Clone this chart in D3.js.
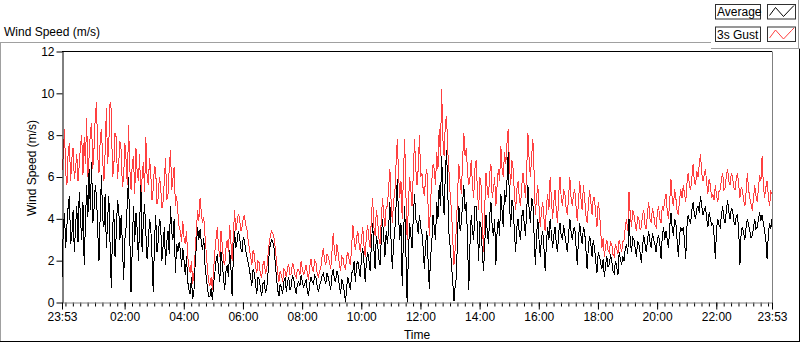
<!DOCTYPE html>
<html>
<head>
<meta charset="utf-8">
<script src="https://cdn.jsdelivr.net/npm/d3@7"></script>
<style>
  html, body { margin: 0; padding: 0; background: #ffffff; }
  svg { display: block; }
  text { font-family: "Liberation Sans", Arial, sans-serif; font-size: 12px; fill: #000; }
</style>
</head>
<body>
<svg id="chart" width="800" height="342"></svg>
<script>
// ---------------- DATA ----------------
const chartTitle = "Wind Speed (m/s)";
const yAxisTitle = "Wind Speed (m/s)";
const xAxisTitle = "Time";
const seriesNames = ["Average", "3s Gust"];
const startLabel = "23:53";          // first sample (previous day)
const sampleStepSeconds = 150;       // one reading every 2.5 minutes
const yTickValues = [0, 2, 4, 6, 8, 10, 12];
const xTickLabels = ["23:53", "02:00", "04:00", "06:00", "08:00", "10:00", "12:00",
                     "14:00", "16:00", "18:00", "20:00", "22:00", "23:53"];

// 3 s gust (m/s), 24 readings per hour from 23:53
const gust = [
  6.3, 7.0, 8.3, 6.2, 5.6, 7.2, 7.6, 5.8, 6.9, 7.4, 5.9, 6.4, 7.1, 5.8, 6.6, 7.5, 8.0, 6.1, 7.9, 6.6, 8.8, 6.0, 7.0, 8.1,
  8.6, 6.4, 7.4, 8.9, 9.6, 7.0, 6.2, 7.8, 8.3, 6.8, 5.8, 7.2, 9.3, 6.6, 7.6, 9.6, 9.2, 6.0, 6.4, 8.1, 7.9, 5.9, 6.6, 7.7,
  7.3, 5.5, 6.0, 7.6, 6.8, 5.6, 8.5, 6.4, 5.4, 6.6, 7.0, 5.2, 7.4, 6.2, 5.8, 7.1, 4.6, 6.0, 6.7, 5.3, 7.9, 6.1, 5.6, 6.9,
  6.2, 4.9, 5.4, 6.5, 6.4, 4.7, 5.0, 6.0, 5.6, 4.5, 4.8, 5.8, 6.9, 4.9, 5.2, 6.4, 7.3, 5.4, 5.9, 6.5, 4.6, 5.1, 4.3, 3.6,
  3.4, 2.9, 3.9, 3.1, 2.8, 3.4, 2.2, 1.7, 1.4, 2.0, 0.9, 1.3, 2.4, 3.4, 4.4, 3.9, 5.0, 4.3, 3.8, 4.1, 3.2, 2.4, 1.6, 1.0,
  0.8, 1.2, 0.6, 1.6, 2.4, 3.1, 3.6, 2.6, 2.2, 3.4, 2.8, 2.0, 1.8, 2.6, 3.0, 2.4, 3.7, 2.9, 2.0, 3.2, 4.4, 3.4, 3.8, 4.2,
  4.1, 3.4, 3.6, 4.0, 4.2, 3.7, 3.5, 3.0, 2.6, 2.2, 1.8, 2.5, 2.3, 1.7, 1.4, 2.0, 1.9, 1.3, 1.2, 1.8, 2.0, 1.4, 1.5, 2.2,
  2.8, 3.2, 3.4, 3.3, 3.1, 2.6, 2.0, 1.4, 1.0, 1.5, 1.3, 1.0, 1.6, 1.5, 1.2, 1.7, 1.8, 1.3, 1.4, 1.9, 1.7, 1.3, 1.2, 1.6,
  1.6, 1.3, 2.0, 1.6, 1.3, 1.5, 1.8, 1.4, 1.1, 1.7, 2.1, 1.6, 1.5, 2.0, 1.9, 1.4, 1.2, 1.5, 1.7, 2.2, 2.6, 2.0, 1.8, 2.3,
  2.2, 1.9, 1.6, 2.4, 3.3, 2.5, 2.0, 2.8, 2.4, 1.8, 1.5, 2.2, 2.1, 1.7, 1.6, 2.2, 2.4, 2.0, 1.8, 2.7, 3.7, 3.0, 2.5, 3.1,
  3.4, 2.8, 2.4, 3.1, 3.6, 2.7, 2.2, 3.3, 3.7, 3.0, 2.6, 4.1, 5.0, 3.6, 3.2, 4.4, 4.0, 3.1, 2.8, 3.9, 5.0, 4.2, 3.6, 4.6,
  4.6, 5.5, 6.4, 4.8, 3.8, 4.9, 5.2, 6.6, 7.8, 6.2, 5.0, 5.8, 4.0, 6.1, 7.8, 5.2, 3.0, 4.6, 6.0, 5.4, 4.6, 6.2, 7.8, 6.4,
  5.6, 6.4, 8.0, 6.0, 6.2, 5.4, 5.1, 6.0, 6.4, 4.6, 3.2, 4.8, 5.8, 6.6, 6.4, 5.6, 7.2, 6.4, 8.3, 7.0, 10.2, 7.8, 7.0, 8.6,
  8.9, 7.2, 6.2, 5.0, 4.4, 3.0, 1.8, 2.6, 3.6, 5.4, 6.6, 5.8, 5.2, 6.8, 8.1, 7.0, 7.4, 6.2, 5.6, 6.0, 6.8, 5.6, 5.0, 6.4,
  6.8, 5.4, 4.4, 6.0, 5.6, 3.8, 2.4, 4.6, 6.2, 5.4, 5.0, 6.2, 6.6, 5.0, 5.4, 6.0, 4.6, 5.6, 6.4, 5.8, 7.5, 6.4, 6.0, 7.2,
  6.6, 7.6, 8.3, 6.6, 5.6, 6.8, 6.4, 5.2, 4.4, 5.4, 5.8, 5.0, 4.6, 5.6, 6.2, 5.6, 5.0, 6.4, 8.1, 6.8, 6.0, 7.0, 7.8, 6.2,
  4.2, 5.0, 5.6, 4.6, 3.6, 4.4, 4.8, 4.0, 3.4, 4.6, 5.2, 4.4, 6.0, 5.0, 4.0, 4.8, 5.4, 4.4, 3.8, 5.2, 6.0, 5.0, 4.6, 5.4,
  5.2, 4.5, 4.2, 5.1, 6.0, 5.0, 4.6, 5.2, 5.4, 4.6, 3.9, 4.8, 5.8, 5.0, 4.4, 5.6, 5.0, 4.2, 3.8, 4.6, 5.4, 4.8, 4.2, 5.0,
  5.0, 4.2, 3.6, 4.8, 4.4, 3.4, 2.6, 3.1, 2.2, 2.7, 3.0, 2.5, 2.4, 2.9, 2.8, 2.3, 2.2, 2.8, 2.6, 2.3, 3.0, 2.7, 2.4, 2.9,
  3.0, 3.6, 4.0, 3.4, 5.3, 4.2, 3.6, 4.4, 4.2, 3.8, 3.4, 4.1, 4.0, 3.5, 3.6, 4.2, 4.4, 3.7, 3.5, 4.3, 4.8, 4.0, 3.8, 4.5,
  4.2, 3.7, 3.6, 4.3, 4.6, 4.0, 3.8, 4.6, 4.4, 4.9, 5.2, 4.4, 4.0, 4.8, 5.9, 5.0, 4.6, 5.4, 5.0, 4.4, 4.2, 4.9, 5.4, 5.0,
  5.6, 5.2, 4.8, 5.7, 6.2, 5.6, 5.4, 6.0, 6.6, 5.8, 5.6, 6.3, 6.0, 6.6, 7.1, 6.2, 5.8, 6.1, 6.4, 5.7, 5.2, 5.9, 5.6, 5.0,
  5.2, 4.9, 5.6, 5.1, 4.8, 5.3, 5.4, 5.9, 6.2, 5.4, 5.5, 6.1, 6.4, 5.8, 5.6, 6.2, 6.0, 5.5, 5.4, 5.9, 6.2, 5.6, 5.0, 5.5,
  5.4, 4.9, 4.6, 5.3, 6.2, 5.4, 5.0, 4.7, 4.4, 5.0, 5.6, 5.1, 4.8, 5.5, 6.1, 5.8, 7.0, 5.6, 5.0, 5.5, 5.8, 5.1, 4.6, 5.3,
  5.2
];

// average wind speed (m/s), same timestamps
const average = [
  1.2, 3.4, 4.3, 2.6, 3.7, 4.6, 5.1, 2.8, 3.2, 4.4, 2.4, 3.6, 4.6, 2.9, 5.3, 4.0, 3.0, 4.8, 1.8, 3.8, 5.6, 4.1, 6.4, 4.4,
  6.7, 3.8, 4.5, 5.6, 5.1, 3.4, 2.0, 4.2, 6.1, 4.0, 3.6, 5.2, 2.6, 3.9, 5.1, 2.8, 0.7, 3.5, 4.4, 2.2, 3.2, 4.9, 4.5, 3.0,
  4.2, 2.8, 1.1, 3.0, 3.6, 4.8, 6.0, 3.2, 0.5, 2.6, 4.6, 2.9, 4.3, 3.5, 2.0, 3.8, 5.6, 2.4, 3.9, 4.7, 3.4, 2.1, 2.8, 4.0,
  3.6, 2.2, 0.5, 2.8, 4.2, 2.4, 2.9, 4.0, 3.8, 2.0, 2.7, 3.6, 1.8, 2.9, 3.4, 2.3, 4.6, 3.4, 3.0, 4.0, 1.4, 2.8, 2.4, 2.9,
  2.5, 1.7, 2.6, 2.0, 1.3, 2.2, 1.0, 0.6, 0.4, 1.2, 0.15, 0.5, 1.8, 2.7, 3.6, 3.0, 3.5, 2.9, 2.5, 3.1, 1.8, 1.2, 0.7, 0.3,
  0.3, 0.7, 0.1, 0.9, 1.4, 2.0, 2.3, 1.6, 1.0, 2.4, 1.9, 1.2, 0.6, 1.5, 1.8, 1.2, 2.5, 1.7, 0.3, 2.2, 3.4, 2.6, 2.9, 3.4,
  3.2, 2.6, 2.4, 3.1, 3.0, 2.5, 2.2, 1.9, 1.6, 1.2, 0.8, 1.6, 1.4, 0.9, 0.4, 1.2, 1.1, 0.7, 0.3, 0.9, 1.0, 0.5, 0.6, 1.3,
  2.3, 2.8, 3.0, 2.9, 2.6, 1.9, 1.2, 0.6, 0.3, 0.9, 0.7, 0.4, 1.0, 1.2, 0.5, 1.0, 1.2, 0.6, 0.8, 1.3, 1.1, 0.7, 0.4, 0.9,
  1.0, 0.8, 1.3, 1.0, 0.7, 0.9, 1.1, 0.6, 0.3, 0.9, 1.2, 1.0, 0.9, 1.3, 1.2, 0.8, 0.5, 0.8, 1.0, 1.3, 1.4, 1.1, 0.9, 1.4,
  1.2, 0.9, 0.6, 1.3, 1.6, 1.1, 1.0, 1.5, 1.3, 0.8, 0.4, 1.1, 0.9, 0.5, 0.0, 0.8, 1.2, 0.9, 0.6, 1.4, 1.5, 2.0, 1.0, 1.8,
  2.0, 1.6, 1.2, 2.2, 2.6, 1.9, 1.0, 2.0, 2.4, 2.0, 1.5, 2.8, 3.8, 2.6, 1.6, 3.2, 2.8, 2.1, 1.8, 3.0, 4.0, 3.1, 2.2, 3.4,
  2.8, 3.6, 4.8, 2.9, 1.6, 2.8, 3.4, 4.6, 5.9, 4.2, 3.0, 3.8, 0.8, 3.2, 4.6, 2.4, 0.0, 2.2, 3.8, 3.2, 2.6, 4.1, 5.2, 4.0,
  3.8, 3.3, 4.2, 3.6, 3.3, 2.6, 1.6, 2.8, 3.4, 2.0, 0.65, 2.2, 2.8, 4.2, 3.6, 3.0, 4.8, 4.0, 5.6, 4.6, 7.0, 5.2, 4.2, 6.2,
  7.3, 5.2, 3.2, 2.6, 1.8, 1.0, 0.05, 0.8, 1.2, 3.6, 4.6, 3.4, 3.8, 4.8, 5.6, 4.4, 4.8, 3.0, 0.6, 2.8, 4.2, 3.4, 3.0, 4.6,
  4.6, 3.6, 2.0, 3.9, 3.6, 2.4, 1.5, 2.8, 4.2, 3.4, 2.8, 4.2, 4.8, 3.6, 3.2, 4.0, 1.8, 3.4, 4.0, 3.2, 5.2, 4.4, 3.6, 5.4,
  4.8, 5.8, 7.2, 4.8, 3.6, 4.9, 4.6, 3.4, 2.4, 3.6, 4.0, 3.3, 3.0, 4.1, 4.4, 3.8, 3.2, 4.4, 5.6, 4.4, 3.8, 5.0, 4.8, 3.2,
  1.8, 3.2, 4.0, 3.0, 2.2, 3.1, 3.4, 2.6, 1.5, 2.9, 3.6, 3.0, 4.0, 3.3, 2.6, 3.2, 3.6, 2.8, 2.4, 3.4, 3.8, 3.2, 3.0, 3.7,
  3.2, 2.8, 2.4, 3.3, 4.0, 3.4, 3.0, 3.5, 3.6, 2.7, 1.8, 3.0, 3.8, 3.2, 2.8, 3.6, 3.4, 2.6, 1.6, 2.6, 3.2, 2.8, 2.2, 3.0,
  2.6, 2.0, 1.4, 2.4, 2.2, 1.9, 1.6, 2.1, 1.2, 1.8, 2.2, 1.7, 1.8, 2.3, 2.0, 1.5, 1.4, 2.0, 1.7, 1.3, 2.4, 2.1, 1.8, 2.2,
  2.0, 2.6, 2.8, 2.3, 4.0, 3.0, 2.4, 3.1, 3.0, 2.6, 2.2, 2.9, 2.8, 2.4, 1.9, 2.7, 3.2, 2.8, 2.4, 3.0, 3.4, 2.9, 2.6, 3.3,
  3.0, 2.8, 2.4, 3.0, 3.2, 2.8, 2.1, 3.2, 3.6, 3.0, 3.4, 3.0, 2.6, 3.6, 4.3, 3.6, 3.2, 4.0, 3.8, 3.0, 2.2, 3.2, 3.6, 3.4,
  3.6, 3.0, 2.1, 3.6, 4.2, 3.9, 3.8, 4.4, 4.8, 4.2, 4.0, 4.5, 4.6, 4.3, 5.1, 4.6, 4.2, 4.4, 4.6, 4.0, 3.6, 4.3, 4.0, 3.7,
  3.8, 3.2, 2.1, 3.5, 4.0, 3.7, 3.6, 4.2, 4.6, 4.0, 3.8, 4.4, 4.9, 4.3, 4.0, 4.5, 4.4, 3.9, 3.7, 4.1, 4.2, 3.4, 1.8, 3.4,
  3.6, 3.3, 3.0, 3.6, 4.0, 3.7, 3.4, 3.1, 3.2, 3.6, 4.0, 3.5, 3.6, 4.0, 4.3, 3.9, 4.2, 3.8, 3.4, 3.0, 2.1, 3.2, 3.8, 3.5,
  4.0
];

// ---------------- CHART ----------------
const svg = d3.select("#chart");
const parseHM = d3.timeParse("%H:%M");
const t0 = parseHM(startLabel);                       // 23:53, previous day
const tEnd = d3.timeDay.offset(t0, 1);                // next day 23:53
const timeAt = i => d3.timeSecond.offset(t0, i * sampleStepSeconds);

const plot = { left: 62, right: 772, top: 51.5, bottom: 302.5 };

const x = d3.scaleTime().domain([t0, tEnd]).range([plot.left, plot.right]);
const y = d3.scaleLinear().domain([0, 12]).range([plot.bottom, plot.top]);

// outer frame
svg.append("line").attr("x1", 0).attr("x2", 711).attr("y1", 42.5).attr("y2", 42.5).attr("stroke", "#a0a0a0");
svg.append("line").attr("x1", 0.5).attr("x2", 0.5).attr("y1", 42).attr("y2", 342).attr("stroke", "#a0a0a0");
svg.append("line").attr("x1", 0).attr("x2", 800).attr("y1", 341.5).attr("y2", 341.5).attr("stroke", "#000");
svg.append("line").attr("x1", 799.5).attr("x2", 799.5).attr("y1", 49).attr("y2", 342).attr("stroke", "#000");

// title
svg.append("text").attr("x", 4).attr("y", 36).text(chartTitle);

// legend panel
const lg = svg.append("g");
lg.append("rect").attr("x", 711).attr("y", 0).attr("width", 88).attr("height", 49).attr("fill", "#ffffff");
lg.append("line").attr("x1", 711).attr("x2", 800).attr("y1", 48.5).attr("y2", 48.5).attr("stroke", "#a0a0a0");
lg.append("line").attr("x1", 798.5).attr("x2", 798.5).attr("y1", 0).attr("y2", 49).attr("stroke", "#a0a0a0");
const legendColors = ["#000000", "#ff4040"];
seriesNames.forEach((name, k) => {
  const top = 4.5 + k * 22.5;
  lg.append("rect").attr("x", 715.5).attr("y", top).attr("width", 45).attr("height", 14.5)
    .attr("fill", "#fff").attr("stroke", "#303030");
  lg.append("text").attr("x", 717).attr("y", top + 11.5).text(name);
  lg.append("rect").attr("x", 767.5).attr("y", top).attr("width", 28).attr("height", 14.5)
    .attr("fill", "#fff").attr("stroke", "#303030");
  const zz = [[769.5, top + 11], [775.5, top + 3], [783.5, top + 12], [791.5, top + 3.5], [794, top + 1]];
  lg.append("path").attr("d", d3.line()(zz)).attr("fill", "none").attr("stroke", legendColors[k]).attr("stroke-width", 1);
});

// clip
svg.append("clipPath").attr("id", "clip").append("rect")
  .attr("x", plot.left).attr("y", plot.top).attr("width", plot.right - plot.left).attr("height", plot.bottom - plot.top);

const line = d3.line().x((d, i) => x(timeAt(i))).y(d => y(d));
const lines = svg.append("g").attr("clip-path", "url(#clip)");
lines.append("path").datum(gust).attr("d", line).attr("fill", "none").attr("stroke", "#ff4040")
  .attr("stroke-width", 1).attr("shape-rendering", "crispEdges");
lines.append("path").datum(average).attr("d", line).attr("fill", "none").attr("stroke", "#000000")
  .attr("stroke-width", 1).attr("shape-rendering", "crispEdges");

// plot frame
svg.append("line").attr("x1", plot.left).attr("x2", plot.right).attr("y1", plot.top).attr("y2", plot.top).attr("stroke", "#000");
svg.append("line").attr("x1", plot.right + 0.5).attr("x2", plot.right + 0.5).attr("y1", plot.top).attr("y2", plot.bottom).attr("stroke", "#808080");

// y axis
const yAxis = d3.axisLeft(y).tickValues(yTickValues).tickSize(6).tickSizeOuter(0).tickPadding(2);
const gy = svg.append("g").attr("transform", `translate(${plot.left + 0.5},0)`).call(yAxis);
gy.select(".domain").attr("stroke", "#000");
gy.selectAll(".tick line").attr("stroke", "#000");
gy.selectAll(".tick text").attr("font-size", 12).attr("font-family", null).attr("fill", "#000");

// x axis
const xMajor = xTickLabels.map((s, k) => k === 0 ? t0 : (k === xTickLabels.length - 1 ? tEnd : d3.timeDay.offset(parseHM(s), 1)));
const xMinor = d3.timeMinute.every(15).range(d3.timeMinute.offset(t0, 7), tEnd);
const gxMinor = svg.append("g").attr("transform", `translate(0,${plot.bottom})`)
  .call(d3.axisBottom(x).tickValues(xMinor).tickSize(4).tickSizeOuter(0).tickFormat(""));
gxMinor.select(".domain").remove();
gxMinor.selectAll(".tick line").attr("stroke", "#000");

const gx = svg.append("g").attr("transform", `translate(0,${plot.bottom})`)
  .call(d3.axisBottom(x).tickValues(xMajor).tickSize(7).tickSizeOuter(0).tickPadding(3)
        .tickFormat((d, k) => xTickLabels[k]));
gx.select(".domain").attr("stroke", "#808080");
gx.selectAll(".tick line").attr("stroke", "#000");
gx.selectAll(".tick text").attr("font-size", 12).attr("font-family", null).attr("fill", "#000");

// axis titles
svg.append("text").attr("x", 417).attr("y", 339).attr("text-anchor", "middle").text(xAxisTitle);
svg.append("text").attr("transform", "translate(36,168) rotate(-90)").attr("text-anchor", "middle").text(yAxisTitle);
</script>
</body>
</html>
